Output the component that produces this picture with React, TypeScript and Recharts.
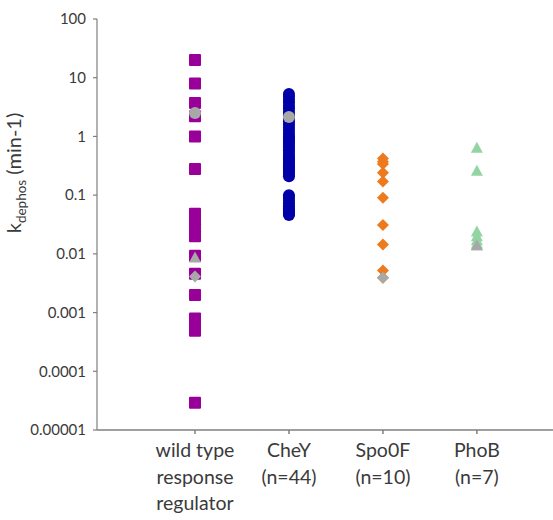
import { ScatterChart, Scatter, XAxis, YAxis } from 'recharts';

// dephosphorylation rate constants (min-1), one list per group
const wildType = [20, 8, 3.7, 2.2, 1.0, 0.28, 0.048, 0.035, 0.026, 0.02, 0.0093, 0.0046, 0.002, 0.00079, 0.00062, 0.00049, 0.000029];
const cheY = [
  5.3, 4.8, 4.2, 3.8, 3.3, 3.0, 2.6, 2.3, 2.0, 1.8, 1.6, 1.4, 1.25, 1.1, 1.0, 0.92, 0.85,
  0.78, 0.7, 0.64, 0.58, 0.52, 0.47, 0.43, 0.4, 0.37, 0.34, 0.31, 0.29, 0.27, 0.25, 0.23, 0.21,
  0.1, 0.09, 0.08, 0.072, 0.065, 0.06, 0.055, 0.052, 0.05, 0.048, 0.046,
];
const spo0F = [0.42, 0.37, 0.34, 0.24, 0.17, 0.09, 0.031, 0.0145, 0.0052, 0.0039];
const phoB = [0.64, 0.26, 0.024, 0.02, 0.017, 0.015, 0.014];

// wild-type values of the three proteins (grey)
const greyCheY = [{ x: 1, y: 2.5 }, { x: 2, y: 2.15 }];
const greySpo0F = [{ x: 1, y: 0.0041 }, { x: 3, y: 0.0039 }];
const greyPhoB = [{ x: 1, y: 0.0087 }, { x: 4, y: 0.014 }];

const categoryLines = [
  ['wild type', 'response', 'regulator'],
  ['CheY', '(n=44)'],
  ['Spo0F', '(n=10)'],
  ['PhoB', '(n=7)'],
];
const yTicks = [0.00001, 0.0001, 0.001, 0.01, 0.1, 1, 10, 100];
const yTickLabels = ['0.00001', '0.0001', '0.001', '0.01', '0.1', '1', '10', '100'];

const toPoints = (x: number, values: number[]) => values.map((y) => ({ x, y }));

const PURPLE = '#990099';
const BLUE = '#0000a8';
const ORANGE = '#ee7a1e';
const GREEN = '#93d4a3';
const GREY = '#a8a8a8';
const FONT = 'Lato, "Open Sans", sans-serif';

const square = (fill: string) => (p: any) => (
  <rect x={p.cx - 6} y={p.cy - 6} width={12} height={12} rx={1} fill={fill} />
);
const circle = (fill: string) => (p: any) => <circle cx={p.cx} cy={p.cy} r={6} fill={fill} />;
const diamond = (fill: string) => (p: any) => (
  <path d={`M${p.cx},${p.cy - 6}L${p.cx + 6},${p.cy}L${p.cx},${p.cy + 6}L${p.cx - 6},${p.cy}Z`} fill={fill} />
);
const triangle = (fill: string) => (p: any) => (
  <path d={`M${p.cx},${p.cy - 6}L${p.cx + 6},${p.cy + 5}L${p.cx - 6},${p.cy + 5}Z`} fill={fill} />
);

const CategoryTick = (props: any) => {
  const { x, y, payload } = props;
  const lines = categoryLines[payload.value - 1] || [];
  return (
    <text x={x} y={y + 21} textAnchor="middle" fill="#3a3a3a" fontSize={19.5} fontFamily={FONT}>
      {lines.map((l, i) => (
        <tspan key={i} x={x} dy={i === 0 ? 0 : 26.5}>
          {l}
        </tspan>
      ))}
    </text>
  );
};

const YLabel = () => (
  <text
    transform="translate(21,173) rotate(-90)"
    textAnchor="middle"
    fill="#3a3a3a"
    fontFamily={FONT}
    fontSize={20}
  >
    k
    <tspan fontSize={13.5} dy={5}>dephos</tspan>
    <tspan dy={-5}> (min-1)</tspan>
  </text>
);

export default function App() {
  return (
    <div>
      <style>{'body{margin:0}'}</style>
      <ScatterChart width={553} height={520} margin={{ top: 19, right: 0, bottom: 0, left: 0 }}>
        <XAxis
          type="number"
          dataKey="x"
          domain={[-0.043, 4.81]}
          ticks={[1, 2, 3, 4]}
          allowDataOverflow
          height={90}
          tickSize={4}
          stroke="#7f7f7f"
          strokeWidth={1.5}
          tick={<CategoryTick />}
          interval={0}
        />
        <YAxis
          type="number"
          dataKey="y"
          scale="log"
          domain={[0.00001, 100]}
          ticks={yTicks}
          allowDataOverflow
          width={97}
          tickSize={4}
          tickMargin={7}
          stroke="#7f7f7f"
          strokeWidth={1.2}
          interval={0}
          tick={{ fill: '#3a3a3a', fontSize: 15, fontFamily: FONT }}
          tickFormatter={(v: number) => yTickLabels[yTicks.indexOf(v)] ?? String(v)}
          label={{ content: () => <YLabel /> }}
        />
        <Scatter data={toPoints(1, wildType)} shape={square(PURPLE)} isAnimationActive={false} />
        <Scatter data={toPoints(2, cheY)} shape={circle(BLUE)} isAnimationActive={false} />
        <Scatter data={toPoints(3, spo0F)} shape={diamond(ORANGE)} isAnimationActive={false} />
        <Scatter data={toPoints(4, phoB)} shape={triangle(GREEN)} isAnimationActive={false} />
        <Scatter data={greyCheY} shape={circle(GREY)} isAnimationActive={false} />
        <Scatter data={greySpo0F} shape={diamond(GREY)} isAnimationActive={false} />
        <Scatter data={greyPhoB} shape={triangle(GREY)} isAnimationActive={false} />
      </ScatterChart>
    </div>
  );
}
